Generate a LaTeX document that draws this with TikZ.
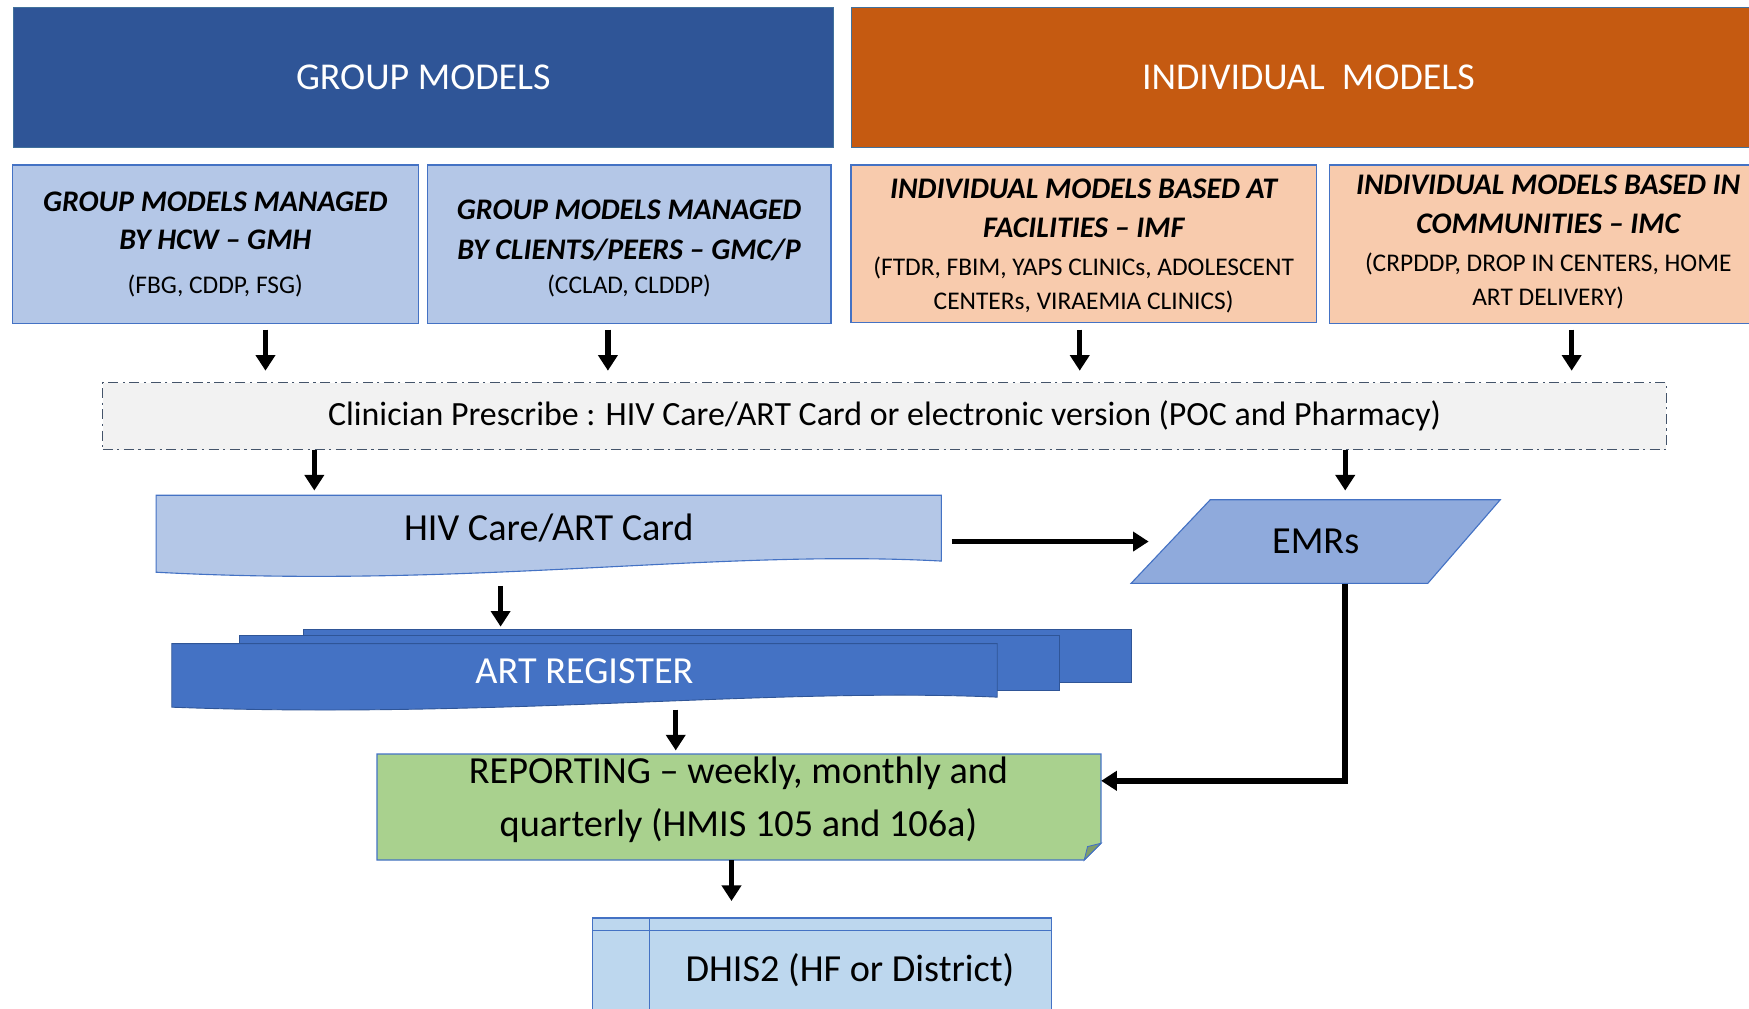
\documentclass[tikz,border=0pt]{standalone}
\usepackage{fontspec}
\setmainfont{Carlito}
\usetikzlibrary{arrows.meta,calc}
\definecolor{hdblue}{HTML}{2F5597}
\definecolor{hdorange}{HTML}{C55A11}
\definecolor{lblue}{HTML}{B4C7E7}
\definecolor{bord}{HTML}{4472C4}
\definecolor{edge}{HTML}{41719C}
\definecolor{lorange}{HTML}{F8CBAD}
\definecolor{lgrey}{HTML}{F2F2F2}
\definecolor{dashc}{HTML}{44546A}
\definecolor{emrc}{HTML}{8FAADC}
\definecolor{regc}{HTML}{4472C4}
\definecolor{regedge}{HTML}{2F5597}
\definecolor{repc}{HTML}{A9D18E}
\definecolor{dhc}{HTML}{BDD7EE}
\newcommand\tfnt{\fontsize{26.8}{30}\selectfont\bfseries\itshape}
\newcommand\pfnt{\fontsize{22.8}{30}\selectfont\mdseries\upshape}
\begin{document}
\begin{tikzpicture}[x=1pt,y=-1pt,
  hdr/.style={draw=edge, line width=1pt, text=white, font=\fontsize{34}{40}\selectfont, inner sep=0pt},
  modbox/.style={draw=bord, line width=1.2pt, inner sep=0pt, align=center, font=\fontsize{22.8}{30}\selectfont},
  boxtext/.style={inner sep=0pt, align=center, font=\fontsize{22.8}{30}\selectfont},
  big/.style={font=\fontsize{34.3}{47}\selectfont, inner sep=0pt, align=center},
  shapeline/.style={draw=bord, line width=1pt},
  arr/.style={line width=4.8pt, -{Triangle[width=17pt,length=14pt]}}
]
\useasboundingbox (0,0) rectangle (1568,904);

% headers
\node[hdr, fill=hdblue, minimum width=735pt, minimum height=125pt] (gm) at (379.5,69.5) {GROUP MODELS};
\node[hdr, fill=hdorange, minimum width=820pt, minimum height=125pt] (im) at (1173,69.5) {INDIVIDUAL\ \ MODELS};

% model boxes
\node[modbox, fill=lblue, minimum width=364pt, minimum height=142pt] (gmh) at (193,219)
  {\tfnt GROUP MODELS MANAGED\\[4pt]\tfnt BY HCW -- GMH\\[9pt]\pfnt (FBG, CDDP, FSG)};
\node[modbox, fill=lblue, minimum width=362pt, minimum height=142pt] (gmc) at (564,219) {};
\node[boxtext] (gmctxt) at (564,223)
  {\tfnt GROUP MODELS MANAGED\\[5pt]\tfnt BY CLIENTS/PEERS -- GMC/P\\[1pt]\pfnt (CCLAD, CLDDP)};
\node[modbox, fill=lorange, minimum width=417pt, minimum height=141pt] (imf) at (971.5,218.5) {};
\node[boxtext] (imftxt) at (971.5,220.5)
  {\tfnt INDIVIDUAL MODELS BASED AT\\[5pt]\tfnt FACILITIES -- IMF\\[4pt]\pfnt (FTDR, FBIM, YAPS CLINICs, ADOLESCENT\\\pfnt CENTERs, VIRAEMIA CLINICS)};
\node[modbox, fill=lorange, minimum width=392pt, minimum height=142pt] (imc) at (1388,219) {};
\node[boxtext] (imctxt) at (1388,217)
  {\tfnt INDIVIDUAL MODELS BASED IN\\[5pt]\tfnt COMMUNITIES -- IMC\\[4pt]\pfnt (CRPDDP, DROP IN CENTERS, HOME\\\pfnt ART DELIVERY)};

% clinician
\node[draw=dashc, line width=1.3pt, dash pattern=on 9pt off 4pt on 2pt off 4pt, fill=lgrey,
  minimum width=1402pt, minimum height=60pt, inner sep=0pt, font=\fontsize{30.4}{34}\selectfont] (clin) at (793,373)
  {Clinician Prescribe : HIV Care/ART Card or electronic version (POC and Pharmacy)};

% HIV card (document shape)
\path[shapeline, fill=lblue] (140,444) -- (844,444) -- (844,503)
  .. controls (640,492) and (420,528) .. (140,513) -- cycle;
\node[big, minimum width=704pt, minimum height=59pt] (hiv) at (492,473.5) {HIV Care/ART Card};

% EMRs
\path[shapeline, fill=emrc] (1085,448) -- (1345,448) -- (1280,523) -- (1014,523) -- cycle;
\node[big, minimum width=331pt, minimum height=75pt] (emr) at (1179.5,485.5) {EMRs};

% ART register (multidocument)
\path[draw=regedge, line width=0.8pt, fill=regc] (272,564) rectangle (1014,612);
\path[draw=regedge, line width=0.8pt, fill=regc] (215,570) rectangle (950,619);
\path[draw=regedge, line width=0.8pt, fill=regc] (154,577) -- (894,577) -- (894,625)
  .. controls (690,616) and (440,645) .. (154,634) -- cycle;
\node[minimum width=742pt, minimum height=48pt, inner sep=0pt] (regback) at (643,588) {};
\node[big, text=white, minimum width=740pt, minimum height=50pt] (reg) at (524,602) {ART REGISTER};

% reporting
\path[shapeline, fill=repc] (338,676) -- (987,676) -- (987,756) -- (972,771) -- (338,771) -- cycle;
\path[draw=bord, line width=0.8pt, fill=repc!75!black] (972,771) -- (975,759) -- (987,756) -- cycle;
\node[minimum width=649pt, minimum height=95pt, inner sep=0pt] (rep) at (662.5,723.5) {};
\node[big] (reptxt) at (662,717) {REPORTING -- weekly, monthly and\\ quarterly (HMIS 105 and 106a)};

% DHIS2
\path[shapeline, fill=dhc] (531,823) rectangle (943,915);
\draw[draw=bord, line width=1pt] (531,834) -- (943,834) (582,823) -- (582,915);
\node[minimum width=412pt, minimum height=92pt, inner sep=0pt] (dh) at (737,869) {};
\node[big] (dhtxt) at (762,870) {DHIS2 (HF or District)};

% connectors
\draw[arr, shorten <=5pt, shorten >=10pt] ([xshift=45pt]gmh.south) -- ([xshift=45pt]gmh.south |- clin.north);
\draw[arr, shorten <=5pt, shorten >=10pt] ([xshift=-19pt]gmc.south) -- ([xshift=-19pt]gmc.south |- clin.north);
\draw[arr, shorten <=6pt, shorten >=10pt] ([xshift=-3.5pt]imf.south) -- ([xshift=-3.5pt]imf.south |- clin.north);
\draw[arr, shorten <=5pt, shorten >=10pt] ([xshift=21pt]imc.south) -- ([xshift=21pt]imc.south |- clin.north);
\draw[arr, shorten >=4pt] ([xshift=142pt]hiv.north west |- clin.south) -- ([xshift=142pt]hiv.north west);
\draw[arr, shorten >=8pt] ([xshift=26.5pt]emr.north |- clin.south) -- ([xshift=26.5pt]emr.north);
\draw[arr, shorten <=9pt] (hiv.east |- emr.center) -- ([xshift=16pt]emr.west);
\draw[arr, shorten <=22pt, shorten >=2pt] ([xshift=309pt]hiv.south west) -- ([xshift=309pt]hiv.south west |- regback.north);
\draw[arr, shorten <=9pt, shorten >=3pt] ([xshift=268pt]rep.north west |- reg.south) -- ([xshift=268pt]rep.north west);
\coordinate (repin) at ([yshift=23.5pt]rep.east);
\draw[arr, line width=5.2pt] ([xshift=26.5pt]emr.south) |- (repin);
\draw[arr, shorten >=15pt] ([xshift=318pt]rep.south west) -- ([xshift=318pt]rep.south west |- dh.north);
\end{tikzpicture}
\end{document}
